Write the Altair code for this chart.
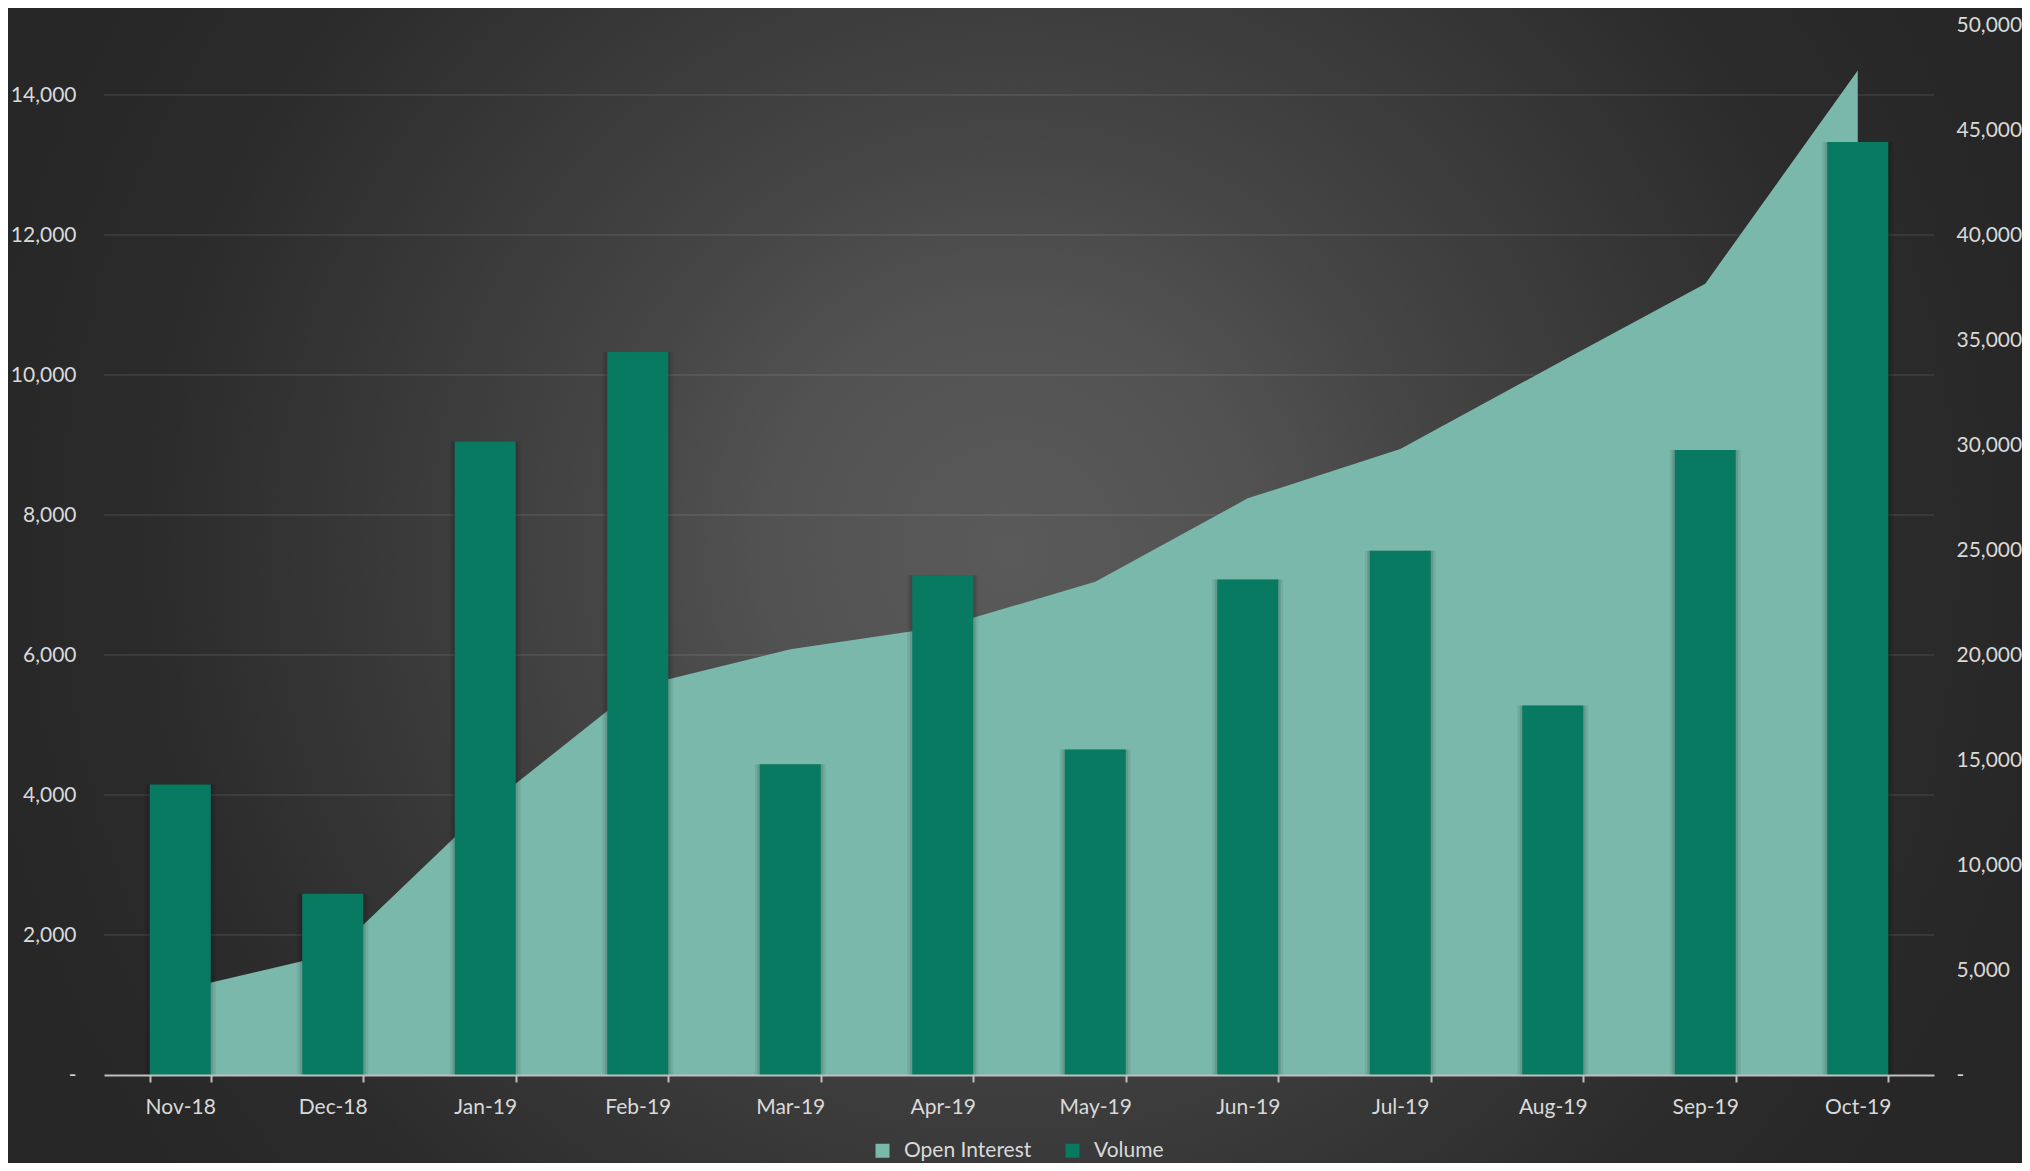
import altair as alt
import pandas as pd

months = ["Nov-18", "Dec-18", "Jan-19", "Feb-19", "Mar-19", "Apr-19",
          "May-19", "Jun-19", "Jul-19", "Aug-19", "Sep-19", "Oct-19"]
volume = [4150, 2590, 9050, 10330, 4440, 7140, 4650, 7080, 7490, 5280, 8930, 13330]
open_interest = [4060, 5760, 12720, 18490, 20270, 21340, 23490, 27460, 29810, 33760, 37680, 47830]
series_names = ["Open Interest", "Volume"]
series_colors = ["#7AB8AB", "#077A61"]
left_ticks = list(range(0, 14001, 2000))
right_ticks = list(range(0, 50001, 5000))

df = pd.DataFrame({"month": months, "vol": volume, "oi": open_interest})
grid_df = pd.DataFrame({"g": left_ticks[1:]})
bg_df = pd.DataFrame({"k": [0]})

W, H = 1830, 1050
FONT = "Lato"
LABEL = "#D9D9D9"
FS = 21

xscale = alt.Scale(domain=months, paddingInner=0.6, paddingOuter=0.3)
xaxis = alt.Axis(title=None, tickBand="extent", domainColor="#BFBFBF", domainWidth=2,
                 tickColor="#BFBFBF", tickWidth=2, tickSize=7, labelPadding=14,
                 labelFont=FONT, labelFontSize=FS, labelColor=LABEL, labelAngle=0,
                 zindex=1, grid=False)


def xenc(**kw):
    return alt.X("month:N", sort=months, scale=xscale, axis=xaxis, **kw)


legend = alt.Legend(orient="none", legendX=768, legendY=1115, direction="horizontal",
                    title=None, symbolType="square", symbolSize=196, symbolStrokeWidth=0,
                    symbolOpacity=1, labelFont=FONT, labelFontSize=FS, labelColor=LABEL,
                    labelOffset=11, columnPadding=30, padding=0, zindex=1)
color_scale = alt.Scale(domain=series_names, range=series_colors)

grad = alt.RadialGradient(
    gradient="radial",
    stops=[
        alt.GradientStop(color="#5a5a5a", offset=0),
        alt.GradientStop(color="#525252", offset=0.22),
        alt.GradientStop(color="#454545", offset=0.38),
        alt.GradientStop(color="#3a3a3a", offset=0.55),
        alt.GradientStop(color="#2c2c2c", offset=0.77),
        alt.GradientStop(color="#272727", offset=0.95),
    ],
    x1=0.5, y1=0.5, r1=0, x2=0.5, y2=0.5, r2=0.5,
)

bg = alt.Chart(bg_df).mark_rect(color=grad).encode(
    x=alt.value(-194), x2=alt.value(2006), y=alt.value(-575), y2=alt.value(1625)
)

vol_scale = alt.Scale(domain=[0, 15000], nice=False)
oi_scale = alt.Scale(domain=[0, 50000], nice=False)

grid = alt.Chart(grid_df).mark_rule(color="white", opacity=0.1, strokeWidth=1.5).encode(
    y=alt.Y("g:Q", scale=vol_scale, axis=None)
)

area = alt.Chart(df).transform_calculate(series="'Open Interest'").mark_area(opacity=1).encode(
    x=xenc(bandPosition=0.5),
    y=alt.Y("oi:Q", scale=oi_scale,
            axis=alt.Axis(orient="right", values=right_ticks, title=None, domain=False,
                          ticks=False, grid=False, labelPadding=22, labelFont=FONT,
                          labelFontSize=FS, labelColor=LABEL, zindex=1,
                          labelExpr="datum.value == 0 ? '-' : format(datum.value, ',')")),
    color=alt.Color("series:N", scale=color_scale, legend=legend),
)

shadow1 = alt.Chart(df).mark_bar(size=71, color="black", opacity=0.07).encode(
    x=xenc(), y=alt.Y("vol:Q", scale=vol_scale, axis=None)
)
shadow2 = alt.Chart(df).mark_bar(size=66, color="black", opacity=0.1).encode(
    x=xenc(), y=alt.Y("vol:Q", scale=vol_scale, axis=None)
)

bars = alt.Chart(df).transform_calculate(series="'Volume'").mark_bar().encode(
    x=xenc(),
    y=alt.Y("vol:Q", scale=vol_scale,
            axis=alt.Axis(orient="left", values=left_ticks, title=None, domain=False,
                          ticks=False, grid=False, labelPadding=28, labelFont=FONT,
                          labelFontSize=FS, labelColor=LABEL, zindex=1,
                          labelExpr="datum.value == 0 ? '-\u00a0\u00a0\u00a0\u00a0\u00a0' : format(datum.value, ',')")),
    color=alt.Color("series:N", scale=color_scale, legend=legend),
)

chart = alt.layer(bg, grid, area, shadow1, shadow2, bars).resolve_scale(
    y="independent"
).properties(
    width=W, height=H,
    autosize=alt.AutoSizeParams(type="none"),
    padding={"left": 96, "top": 17, "right": 88, "bottom": 88},
    background="#282828",
).configure_view(stroke=None)

chart.save("out.html", embed_options={"renderer": "svg", "actions": False})
